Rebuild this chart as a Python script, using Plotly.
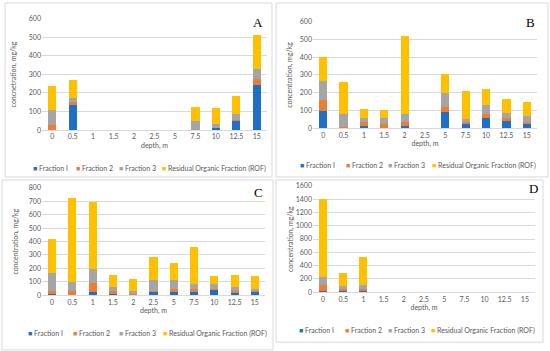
import plotly.graph_objects as go

depths = ['0', '0.5', '1', '1.5', '2', '2.5', '5', '7.5', '10', '12.5', '15']
series_names = ['Fraction I', 'Fraction 2', 'Fraction 3', 'Residual Organic Fraction (ROF)']
colors = ['#1F6FC6', '#ED7D31', '#A5A5A5', '#FFC000']

# Panel A
a_f1 = [0, 134, 0, 0, 0, 0, 0, 0, 9, 48, 243]
a_f2 = [26, 19, 0, 0, 0, 0, 0, 3, 3, 7, 30]
a_f3 = [81, 19, 0, 0, 0, 0, 0, 48, 21, 33, 58]
a_rof = [129, 99, 0, 0, 0, 0, 0, 74, 88, 95, 179]
# Panel B
b_f1 = [99, 1, 11, 2, 11, 0, 92, 22, 57, 39, 22]
b_f2 = [59, 8, 22, 20, 22, 0, 27, 13, 20, 16, 13]
b_f3 = [110, 68, 26, 37, 48, 0, 77, 18, 51, 29, 35]
b_rof = [132, 185, 49, 44, 438, 0, 107, 156, 90, 79, 77]
# Panel C
c_f1 = [10, 3, 24, 12, 2, 22, 22, 22, 39, 17, 22]
c_f2 = [24, 31, 66, 17, 5, 12, 22, 26, 7, 15, 10]
c_f3 = [128, 68, 104, 32, 25, 82, 70, 32, 34, 26, 14]
c_rof = [255, 620, 502, 92, 92, 165, 128, 276, 65, 95, 99]
# Panel D
d_f1 = [24, 15, 15, 0, 0, 0, 0, 0, 0, 0, 0]
d_f2 = [88, 39, 34, 0, 0, 0, 0, 0, 0, 0, 0]
d_f3 = [112, 44, 68, 0, 0, 0, 0, 0, 0, 0, 0]
d_rof = [1181, 195, 410, 0, 0, 0, 0, 0, 0, 0, 0]

panels = [
    dict(key='A', data=[a_f1, a_f2, a_f3, a_rof], ymax=600, dtick=100,
         ytitle='concnetration, mg/kg'),
    dict(key='B', data=[b_f1, b_f2, b_f3, b_rof], ymax=600, dtick=100,
         ytitle='concentration, mg/kg'),
    dict(key='C', data=[c_f1, c_f2, c_f3, c_rof], ymax=800, dtick=100,
         ytitle='concentration, mg/kg'),
    dict(key='D', data=[d_f1, d_f2, d_f3, d_rof], ymax=1600, dtick=200,
         ytitle='concentration, mg/kg'),
]

W, H = 550, 351
def px(x):
    return x / W
def py(y):
    return 1 - y / H

# plot areas in pixels: (x0, x1, ytop, ybottom)
areas = [(42, 267, 14, 128), (313, 537, 17, 126), (42, 265, 187, 297), (313, 535, 185, 294)]
borders = [(5, 272, -2, 176), (276, 548, -2, 176), (2, 273, 179, 353), (276, 543, 179, 345)]
letters = [(258, 18), (530, 18), (258, 192), (533, 188)]
ytitle_x = [13, 290, 15, 290]
legend_y = [167, 164, 336, 333]
legend_x = [[31, 74, 117, 160], [298, 344, 386, 430], [26, 71, 117, 161], [297, 343, 386, 429]]

FONT = 'Lato'
TICKC = '#595959'
LEGSIZE = 7

fig = go.Figure()
layout = dict(width=W, height=H, margin=dict(l=0, r=0, t=0, b=0),
              paper_bgcolor='white', plot_bgcolor='white', barmode='stack',
              bargap=0.6, showlegend=False, font=dict(family=FONT, size=7, color=TICKC))
shapes = []
annotations = []

for i, p in enumerate(panels):
    n = '' if i == 0 else str(i + 1)
    xa, ya = 'x' + n, 'y' + n
    for s in range(4):
        fig.add_trace(go.Bar(x=depths, y=p['data'][s], name=series_names[s],
                             marker=dict(color=colors[s], line=dict(width=0)),
                             xaxis=xa, yaxis=ya, showlegend=False))
    x0, x1, yt, yb = areas[i]
    layout['xaxis' + n] = dict(domain=[px(x0), px(x1)], anchor=ya, type='category',
                               range=[-0.5, 10.5], showgrid=False, ticks='',
                               showline=True, linecolor='#d9d9d9', linewidth=1,
                               tickfont=dict(family=FONT, size=7, color=TICKC),
                               title=dict(text='depth, m', standoff=3,
                                          font=dict(family=FONT, size=7, color=TICKC)))
    layout['yaxis' + n] = dict(domain=[py(yb), py(yt)], anchor=xa, range=[0, p['ymax']],
                               dtick=p['dtick'], showgrid=True, gridcolor='#d9d9d9',
                               gridwidth=1, zeroline=False, ticks='',
                               tickfont=dict(family=FONT, size=7, color=TICKC))
    annotations.append(dict(text=p['ytitle'], xref='paper', yref='paper',
                            x=px(ytitle_x[i]), y=py((yt + yb) / 2), textangle=-90,
                            showarrow=False, xanchor='center', yanchor='middle',
                            font=dict(family=FONT, size=7, color=TICKC)))
    bx0, bx1, by0, by1 = borders[i]
    shapes.append(dict(type='rect', xref='paper', yref='paper',
                       x0=px(bx0), x1=px(bx1), y0=py(by1), y1=py(by0),
                       line=dict(color='#d9d9d9', width=1)))
    lx, ly = letters[i]
    annotations.append(dict(text=p['key'], xref='paper', yref='paper', x=px(lx), y=py(ly),
                            showarrow=False, xanchor='center', yanchor='middle',
                            font=dict(family='Liberation Serif', size=13, color='black')))
    for s in range(4):
        annotations.append(dict(
            text='<span style="color:%s">■</span> %s' % (colors[s], series_names[s]),
            xref='paper', yref='paper', x=px(legend_x[i][s]), y=py(legend_y[i]),
            showarrow=False, xanchor='left', yanchor='middle',
            font=dict(family=FONT, size=LEGSIZE, color=TICKC)))

layout['shapes'] = shapes
layout['annotations'] = annotations
fig.update_layout(**layout)
fig.write_html('out.html', config={'displayModeBar': False, 'staticPlot': True})

# remove default browser body margin so the figure sits at the top-left corner
with open('out.html', 'r', encoding='utf-8') as f:
    html = f.read()
html = html.replace('<head>', '<head><style>html,body{margin:0;padding:0;overflow:hidden;}</style>', 1)
with open('out.html', 'w', encoding='utf-8') as f:
    f.write(html)
